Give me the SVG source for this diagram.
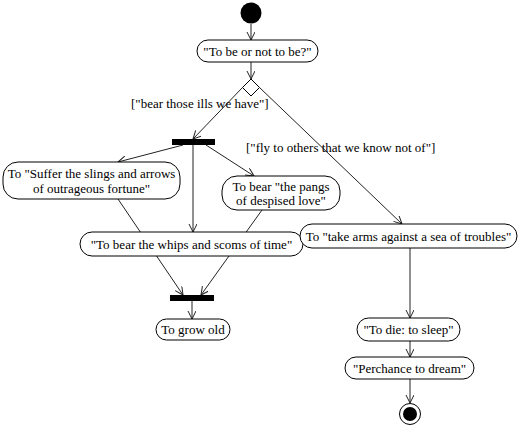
<svg xmlns="http://www.w3.org/2000/svg" width="522" height="430" viewBox="0 0 522 430">
<style>
.n{fill:#fff;stroke:#000;stroke-width:1}
text{font-family:'Liberation Serif','Times New Roman',Times,serif;font-size:13px;fill:#000}
.t{text-anchor:middle}
.c{fill:none;stroke:#222;stroke-width:1}
.a{marker-end:url(#arr)}
.bar{fill:#000}
</style>
<defs>
<marker id="arr" markerWidth="10" markerHeight="10" refX="8" refY="4" orient="auto" markerUnits="userSpaceOnUse">
<path d="M0,0 L8,4 L0,8" fill="none" stroke="#222" stroke-width="1"/>
</marker>
</defs>
<rect width="522" height="430" fill="#fff"/>
<g id="connectors">
<line class="c a" x1="251" y1="24" x2="251" y2="40"/>
<line class="c a" x1="251" y1="62" x2="251" y2="79"/>
<line class="c a" x1="242.5" y1="87.5" x2="193" y2="139"/>
<line class="c a" x1="259.5" y1="87.5" x2="402" y2="224"/>
<line class="c a" x1="183" y1="145" x2="118" y2="162"/>
<line class="c a" x1="193" y1="145" x2="193" y2="232"/>
<line class="c a" x1="206" y1="145" x2="254" y2="176"/>
<line class="c a" x1="118" y1="199" x2="183" y2="295"/>
<line class="c a" x1="262" y1="210" x2="201" y2="295"/>
<line class="c a" x1="192" y1="301" x2="192" y2="319"/>
<line class="c a" x1="410" y1="248" x2="410" y2="318"/>
<line class="c a" x1="410" y1="341" x2="410" y2="357"/>
<line class="c a" x1="410" y1="379" x2="410" y2="403"/>
<text font-family="Liberation Serif, serif" x="131" y="108">["bear those ills we have"]</text>
<text font-family="Liberation Serif, serif" x="246" y="152">["fly to others that we know not of"]</text>
</g>
<g id="start"><circle cx="251" cy="13" r="10.5" fill="#000"/></g>
<g id="tobe"><rect class="n" x="197" y="40" width="121" height="22" rx="11"/><text class="t" x="257.5" y="56">"To be or not to be?"</text></g>
<g id="decision"><polygon class="n" points="251,79 259.5,87.5 251,96 242.5,87.5"/></g>
<g id="fork"><rect class="bar" x="172" y="139" width="43" height="6"/></g>
<g id="suffer"><rect class="n" x="3" y="162" width="177" height="37" rx="15"/><text class="t" x="91.5" y="178">To "Suffer the slings and arrows</text><text class="t" x="91.5" y="193">of outrageous fortune"</text></g>
<g id="pangs"><rect class="n" x="222" y="176" width="118" height="34" rx="15"/><text class="t" x="281" y="191">To bear "the pangs</text><text class="t" x="281" y="205">of despised love"</text></g>
<g id="whips"><rect class="n" x="80" y="232" width="223" height="24" rx="12"/><text class="t" x="191.5" y="249">"To bear the whips and scoms of time"</text></g>
<g id="arms"><rect class="n" x="300" y="224" width="217" height="24" rx="12"/><text class="t" x="408.5" y="241">To "take arms against a sea of troubles"</text></g>
<g id="join"><rect class="bar" x="170" y="295" width="44" height="6"/></g>
<g id="growold"><rect class="n" x="156" y="319" width="74" height="21" rx="10.5"/><text class="t" x="193" y="334">To grow old</text></g>
<g id="die"><rect class="n" x="357" y="318" width="103" height="23" rx="11.5"/><text class="t" x="408.5" y="334">"To die: to sleep"</text></g>
<g id="dream"><rect class="n" x="345" y="357" width="129" height="22" rx="11"/><text class="t" x="409.5" y="373">"Perchance to dream"</text></g>
<g id="end"><circle cx="410" cy="414" r="10.5" fill="#fff" stroke="#000" stroke-width="1"/><circle cx="410" cy="414" r="7" fill="#000"/></g>
</svg>
